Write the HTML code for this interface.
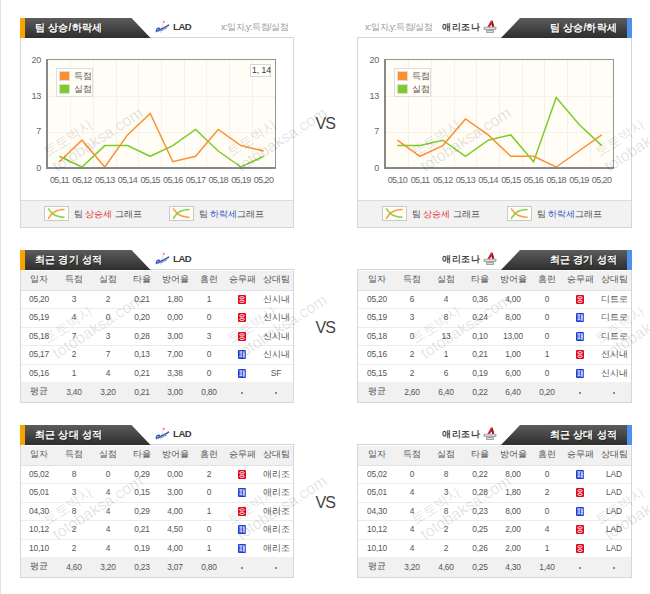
<!DOCTYPE html><html><head><meta charset="utf-8"><style>
html,body{margin:0;padding:0;background:#fff;width:650px;height:594px;overflow:hidden;position:relative;font-family:"Liberation Sans", sans-serif}
div{box-sizing:content-box}
.ttl{position:absolute;height:19px;line-height:19px;color:#fff;font-weight:bold;font-size:10px;white-space:nowrap;letter-spacing:0.2px;text-shadow:1px 1px 0 rgba(0,0,0,0.35)}
.team{position:absolute;font-size:9.5px;font-weight:bold;color:#3a3a3a;line-height:12px;letter-spacing:-0.4px}
.teamk{position:absolute;font-size:9px;font-weight:bold;color:#444;line-height:12px;letter-spacing:0.5px}
.axn{position:absolute;font-size:9px;color:#9a9a9a;line-height:12px;white-space:nowrap;letter-spacing:-0.5px}
.lg{position:absolute;font-size:8.5px;color:#555;line-height:12px}
.num{position:absolute;font-size:8px;line-height:10px;white-space:nowrap}
.ylab{position:absolute;font-size:9px;line-height:10px;color:#666;text-align:right;letter-spacing:-0.3px}
.xlab{position:absolute;font-size:9px;line-height:10px;color:#666;text-align:center;letter-spacing:-0.6px}
.ft{position:absolute;font-size:8.5px;line-height:12px;color:#555;white-space:nowrap}
.th,.td,.tn{position:absolute;width:50px;text-align:center;white-space:nowrap;color:#555;line-height:11px}
.th{font-size:8.5px}
.td{font-size:8.5px}
.tn{font-size:9.5px;letter-spacing:-0.2px;transform:scaleX(0.88)}
.wl{position:absolute;width:8px;height:9px;border-radius:1px;overflow:hidden}
.wl span{position:absolute;left:-1px;top:-1px;width:10px;text-align:center;font-size:8px;line-height:11px;color:#fff;font-weight:bold}
.vs{position:absolute;left:315.5px;font-size:16px;color:#444;line-height:16px;letter-spacing:-1px}
.wk{position:absolute;font-size:14px;line-height:14px;height:14px;white-space:nowrap;transform-origin:0 100%;transform:rotate(-33deg);color:rgba(0,0,0,0.12)}
.we{position:absolute;font-size:16px;line-height:14px;height:14px;white-space:nowrap;transform-origin:0 100%;transform:rotate(-33deg);color:rgba(0,0,0,0.12)}
</style></head><body><div style="position:absolute;left:0;top:0;width:1px;height:594px;background:#e3e3e3"></div><div style="position:absolute;left:20px;top:37px;width:272px;height:189px;border:1px solid #d6d6d6;background:#fff"></div>
<div style="position:absolute;left:21px;top:200px;width:272px;height:26px;border-top:1px solid #dcdcdc;background:#f2f2f2"></div>
<svg style="position:absolute;left:20px;top:18px" width="131" height="20"><defs><linearGradient id="g2018" x1="0" y1="0" x2="0" y2="1"><stop offset="0" stop-color="#5c5c5c"/><stop offset="1" stop-color="#2e2e2e"/></linearGradient></defs><polygon points="0,0 111.5,0 130.5,20 0,20" fill="url(#g2018)"/><rect x="0" y="0" width="5" height="20" fill="#f7a400"/></svg>
<div class="ttl" style="left:35px;top:18px">팀 상승/하락세</div>
<svg style="position:absolute;left:155px;top:20px" width="16" height="14" viewBox="0 0 16 14"><line x1="8.5" y1="2" x2="5.5" y2="13" stroke="#f6b8c0" stroke-width="0.7"/><circle cx="8.8" cy="1.8" r="1.1" fill="#f08090"/><path d="M1.5,11.5 C1,9.5 2.5,8 4,8.3 C5,8.6 4.5,10.3 3,11 M4.5,10 C6,9.2 7,8.3 8,8.4 C9,7.6 10.5,6.9 11.5,6.5 C12.3,6 12.8,5.6 13.5,5.2" fill="none" stroke="#3f5fb5" stroke-width="1.6" stroke-linecap="round"/><path d="M5.5,11 C7.5,10.2 9.5,9.2 12,7.8" fill="none" stroke="#6d86c8" stroke-width="1"/></svg>
<div class="team" style="left:173px;top:21px">LAD</div>
<div class="axn" style="left:221px;top:21px">x:일자,y:득점/실점</div>
<svg style="position:absolute;left:46px;top:59px" width="230" height="110"><rect x="0" y="0" width="230" height="110" fill="#fffdf6"/><line x1="24.5" y1="1" x2="24.5" y2="108" stroke="#f5f2ea" stroke-width="1"/><line x1="47.5" y1="1" x2="47.5" y2="108" stroke="#f5f2ea" stroke-width="1"/><line x1="70.5" y1="1" x2="70.5" y2="108" stroke="#f5f2ea" stroke-width="1"/><line x1="92.5" y1="1" x2="92.5" y2="108" stroke="#f5f2ea" stroke-width="1"/><line x1="115.5" y1="1" x2="115.5" y2="108" stroke="#f5f2ea" stroke-width="1"/><line x1="138.5" y1="1" x2="138.5" y2="108" stroke="#f5f2ea" stroke-width="1"/><line x1="160.5" y1="1" x2="160.5" y2="108" stroke="#f5f2ea" stroke-width="1"/><line x1="183.5" y1="1" x2="183.5" y2="108" stroke="#f5f2ea" stroke-width="1"/><line x1="206.5" y1="1" x2="206.5" y2="108" stroke="#f5f2ea" stroke-width="1"/><line x1="2" y1="37.5" x2="229" y2="37.5" stroke="#f5f2ea" stroke-width="1"/><line x1="2" y1="73.5" x2="229" y2="73.5" stroke="#f5f2ea" stroke-width="1"/><polyline points="13.3,97.3 36.0,108.0 58.8,86.6 81.5,86.6 104.2,97.3 126.8,86.6 149.6,70.5 172.2,92.0 194.9,108.0 217.7,97.3" fill="none" stroke="#7ccd2a" stroke-width="1.5" stroke-linejoin="miter"/><polyline points="13.3,102.7 36.0,81.2 58.8,108.0 81.5,75.9 104.2,54.5 126.8,102.7 149.6,97.3 172.2,70.5 194.9,86.6 217.7,92.0" fill="none" stroke="#fb9032" stroke-width="1.5" stroke-linejoin="miter"/><rect x="0.5" y="0.5" width="229" height="109" fill="none" stroke="#959595" stroke-width="1"/><rect x="0" y="0" width="2" height="110" fill="#888"/><rect x="0" y="108" width="230" height="2" fill="#888"/><rect x="10.5" y="9.5" width="36" height="28" fill="#fffdf6" stroke="#dedede"/><rect x="13.5" y="12.5" width="10" height="9" fill="#fb9032" stroke="#ddd"/><rect x="13.5" y="25.5" width="10" height="9" fill="#7ccd2a" stroke="#ddd"/></svg>
<div class="lg" style="left:74px;top:70px">득점</div>
<div class="lg" style="left:74px;top:83px">실점</div>
<div style="position:absolute;left:250px;top:64px;width:19px;height:11px;border:1px solid #d8d8d8;background:#fff"></div>
<div class="num" style="left:252px;top:65px;color:#333;font-size:8.5px">1, 14</div>
<div class="ylab" style="left:7px;top:55px;width:34px">20</div>
<div class="ylab" style="left:7px;top:91px;width:34px">13</div>
<div class="ylab" style="left:7px;top:126px;width:34px">7</div>
<div class="ylab" style="left:7px;top:163px;width:34px">0</div>
<div class="xlab" style="left:39.4px;top:175px;width:40px">05,11</div>
<div class="xlab" style="left:62.0px;top:175px;width:40px">05,12</div>
<div class="xlab" style="left:84.8px;top:175px;width:40px">05,13</div>
<div class="xlab" style="left:107.5px;top:175px;width:40px">05,14</div>
<div class="xlab" style="left:130.2px;top:175px;width:40px">05,15</div>
<div class="xlab" style="left:152.8px;top:175px;width:40px">05,16</div>
<div class="xlab" style="left:175.6px;top:175px;width:40px">05,17</div>
<div class="xlab" style="left:198.2px;top:175px;width:40px">05,18</div>
<div class="xlab" style="left:220.9px;top:175px;width:40px">05,19</div>
<div class="xlab" style="left:243.6px;top:175px;width:40px">05,20</div>
<svg style="position:absolute;left:44px;top:206px" width="25" height="15"><rect x="0.5" y="0.5" width="24" height="14" fill="#fffdf7" stroke="#c9c9c9"/><path d="M4.5,3 C7,6.5 9.5,10.5 20,11.2" fill="none" stroke="#7ccd2a" stroke-width="1.6" stroke-linecap="round" opacity="0.9"/><path d="M4.5,12.2 C7,8.5 9.5,4 20,3.5" fill="none" stroke="#fb9032" stroke-width="1.6" stroke-linecap="round" opacity="0.9"/></svg>
<div class="ft" style="left:73.5px;top:208px">팀</div><div class="ft" style="left:84.5px;top:208px;color:#e03a3a">상승세</div><div class="ft" style="left:114.5px;top:208px;letter-spacing:0px">그래프</div>
<svg style="position:absolute;left:169px;top:206px" width="25" height="15"><rect x="0.5" y="0.5" width="24" height="14" fill="#fffdf7" stroke="#c9c9c9"/><path d="M4.5,3 C7,6.5 9.5,10.5 20,11.2" fill="none" stroke="#fb9032" stroke-width="1.6" stroke-linecap="round" opacity="0.9"/><path d="M4.5,12.2 C7,8.5 9.5,4 20,3.5" fill="none" stroke="#7ccd2a" stroke-width="1.6" stroke-linecap="round" opacity="0.9"/></svg>
<div class="ft" style="left:198.5px;top:208px">팀</div><div class="ft" style="left:209.5px;top:208px;color:#3a5cc0">하락세</div><div class="ft" style="left:237px;top:208px;letter-spacing:0px">그래프</div>
<div style="position:absolute;left:357px;top:37px;width:273px;height:189px;border:1px solid #d6d6d6;background:#fff"></div>
<div style="position:absolute;left:358px;top:200px;width:273px;height:26px;border-top:1px solid #dcdcdc;background:#f2f2f2"></div>
<svg style="position:absolute;left:501px;top:18px" width="131" height="20"><defs><linearGradient id="g50118" x1="0" y1="0" x2="0" y2="1"><stop offset="0" stop-color="#5c5c5c"/><stop offset="1" stop-color="#2e2e2e"/></linearGradient></defs><polygon points="19,0 131,0 131,20 0,20" fill="url(#g50118)"/><rect x="126" y="0" width="5" height="20" fill="#4f8ff0"/></svg>
<div class="ttl" style="left:501px;width:116px;text-align:right;top:18px">팀 상승/하락세</div>
<div class="axn" style="left:365px;top:21px">x:일자,y:득점/실점</div>
<div class="teamk" style="left:442px;top:21px">애리조나</div>
<svg style="position:absolute;left:483px;top:20px" width="14" height="14" viewBox="0 0 14 14"><path d="M3.5,8.5 L8,0.5 L9.6,0.5 L11.5,8.5 L9.6,8.5 L8.8,4.2 L5.8,8.5 Z" fill="#d0202c"/><path d="M8.8,4.2 L9.6,0.5 L11.5,8.5 L9.6,8.5 Z" fill="#8e1520"/><rect x="0.5" y="6.8" width="13" height="3.2" rx="1.2" fill="#a8a8a8"/><rect x="2" y="7.6" width="10" height="1.4" fill="#d8d8d8"/><rect x="3" y="10" width="8" height="3" rx="1" fill="#9c9c9c"/><rect x="4" y="10.9" width="6" height="1.2" fill="#dcdcdc"/></svg>
<svg style="position:absolute;left:384px;top:59px" width="230" height="110"><rect x="0" y="0" width="230" height="110" fill="#fffdf6"/><line x1="24.5" y1="1" x2="24.5" y2="108" stroke="#f5f2ea" stroke-width="1"/><line x1="47.5" y1="1" x2="47.5" y2="108" stroke="#f5f2ea" stroke-width="1"/><line x1="70.5" y1="1" x2="70.5" y2="108" stroke="#f5f2ea" stroke-width="1"/><line x1="92.5" y1="1" x2="92.5" y2="108" stroke="#f5f2ea" stroke-width="1"/><line x1="115.5" y1="1" x2="115.5" y2="108" stroke="#f5f2ea" stroke-width="1"/><line x1="138.5" y1="1" x2="138.5" y2="108" stroke="#f5f2ea" stroke-width="1"/><line x1="160.5" y1="1" x2="160.5" y2="108" stroke="#f5f2ea" stroke-width="1"/><line x1="183.5" y1="1" x2="183.5" y2="108" stroke="#f5f2ea" stroke-width="1"/><line x1="206.5" y1="1" x2="206.5" y2="108" stroke="#f5f2ea" stroke-width="1"/><line x1="2" y1="37.5" x2="229" y2="37.5" stroke="#f5f2ea" stroke-width="1"/><line x1="2" y1="73.5" x2="229" y2="73.5" stroke="#f5f2ea" stroke-width="1"/><polyline points="13.3,86.6 36.0,86.6 58.8,81.2 81.5,97.3 104.2,81.2 126.8,75.9 149.6,102.7 172.2,38.5 194.9,65.2 217.7,86.6" fill="none" stroke="#7ccd2a" stroke-width="1.5" stroke-linejoin="miter"/><polyline points="13.3,81.2 36.0,97.3 58.8,86.6 81.5,59.9 104.2,75.9 126.8,97.3 149.6,97.3 172.2,108.0 194.9,92.0 217.7,75.9" fill="none" stroke="#fb9032" stroke-width="1.5" stroke-linejoin="miter"/><rect x="0.5" y="0.5" width="229" height="109" fill="none" stroke="#959595" stroke-width="1"/><rect x="0" y="0" width="2" height="110" fill="#888"/><rect x="0" y="108" width="230" height="2" fill="#888"/><rect x="10.5" y="9.5" width="36" height="28" fill="#fffdf6" stroke="#dedede"/><rect x="13.5" y="12.5" width="10" height="9" fill="#fb9032" stroke="#ddd"/><rect x="13.5" y="25.5" width="10" height="9" fill="#7ccd2a" stroke="#ddd"/></svg>
<div class="lg" style="left:412px;top:70px">득점</div>
<div class="lg" style="left:412px;top:83px">실점</div>
<div class="ylab" style="left:345px;top:55px;width:34px">20</div>
<div class="ylab" style="left:345px;top:91px;width:34px">13</div>
<div class="ylab" style="left:345px;top:126px;width:34px">7</div>
<div class="ylab" style="left:345px;top:163px;width:34px">0</div>
<div class="xlab" style="left:377.4px;top:175px;width:40px">05,10</div>
<div class="xlab" style="left:400.1px;top:175px;width:40px">05,11</div>
<div class="xlab" style="left:422.8px;top:175px;width:40px">05,12</div>
<div class="xlab" style="left:445.4px;top:175px;width:40px">05,13</div>
<div class="xlab" style="left:468.1px;top:175px;width:40px">05,14</div>
<div class="xlab" style="left:490.9px;top:175px;width:40px">05,15</div>
<div class="xlab" style="left:513.5px;top:175px;width:40px">05,16</div>
<div class="xlab" style="left:536.2px;top:175px;width:40px">05,18</div>
<div class="xlab" style="left:559.0px;top:175px;width:40px">05,19</div>
<div class="xlab" style="left:581.6px;top:175px;width:40px">05,20</div>
<svg style="position:absolute;left:382px;top:206px" width="25" height="15"><rect x="0.5" y="0.5" width="24" height="14" fill="#fffdf7" stroke="#c9c9c9"/><path d="M4.5,3 C7,6.5 9.5,10.5 20,11.2" fill="none" stroke="#7ccd2a" stroke-width="1.6" stroke-linecap="round" opacity="0.9"/><path d="M4.5,12.2 C7,8.5 9.5,4 20,3.5" fill="none" stroke="#fb9032" stroke-width="1.6" stroke-linecap="round" opacity="0.9"/></svg>
<div class="ft" style="left:411.5px;top:208px">팀</div><div class="ft" style="left:422.5px;top:208px;color:#e03a3a">상승세</div><div class="ft" style="left:452.5px;top:208px;letter-spacing:0px">그래프</div>
<svg style="position:absolute;left:507px;top:206px" width="25" height="15"><rect x="0.5" y="0.5" width="24" height="14" fill="#fffdf7" stroke="#c9c9c9"/><path d="M4.5,3 C7,6.5 9.5,10.5 20,11.2" fill="none" stroke="#fb9032" stroke-width="1.6" stroke-linecap="round" opacity="0.9"/><path d="M4.5,12.2 C7,8.5 9.5,4 20,3.5" fill="none" stroke="#7ccd2a" stroke-width="1.6" stroke-linecap="round" opacity="0.9"/></svg>
<div class="ft" style="left:536.5px;top:208px">팀</div><div class="ft" style="left:547.5px;top:208px;color:#3a5cc0">하락세</div><div class="ft" style="left:575px;top:208px;letter-spacing:0px">그래프</div>
<div style="position:absolute;left:20px;top:269px;width:272px;height:132px;border:1px solid #d6d6d6;background:#fff"></div>
<svg style="position:absolute;left:20px;top:250px" width="131" height="20"><defs><linearGradient id="g20250" x1="0" y1="0" x2="0" y2="1"><stop offset="0" stop-color="#5c5c5c"/><stop offset="1" stop-color="#2e2e2e"/></linearGradient></defs><polygon points="0,0 111.5,0 130.5,20 0,20" fill="url(#g20250)"/><rect x="0" y="0" width="5" height="20" fill="#f7a400"/></svg>
<div class="ttl" style="left:35px;top:250px">최근 경기 성적</div>
<svg style="position:absolute;left:155px;top:252px" width="16" height="14" viewBox="0 0 16 14"><line x1="8.5" y1="2" x2="5.5" y2="13" stroke="#f6b8c0" stroke-width="0.7"/><circle cx="8.8" cy="1.8" r="1.1" fill="#f08090"/><path d="M1.5,11.5 C1,9.5 2.5,8 4,8.3 C5,8.6 4.5,10.3 3,11 M4.5,10 C6,9.2 7,8.3 8,8.4 C9,7.6 10.5,6.9 11.5,6.5 C12.3,6 12.8,5.6 13.5,5.2" fill="none" stroke="#3f5fb5" stroke-width="1.6" stroke-linecap="round"/><path d="M5.5,11 C7.5,10.2 9.5,9.2 12,7.8" fill="none" stroke="#6d86c8" stroke-width="1"/></svg>
<div class="team" style="left:173px;top:253px">LAD</div>
<div style="position:absolute;left:21px;top:271px;width:272px;height:19px;background:#f1f1f1;border-bottom:1px solid #e2e2e2"></div>
<div style="position:absolute;left:21px;top:382px;width:272px;height:20px;background:#f1f1f1"></div>
<div style="position:absolute;left:21px;top:308px;width:272px;height:1px;background:#ececec"></div>
<div style="position:absolute;left:21px;top:327px;width:272px;height:1px;background:#ececec"></div>
<div style="position:absolute;left:21px;top:345px;width:272px;height:1px;background:#ececec"></div>
<div style="position:absolute;left:21px;top:364px;width:272px;height:1px;background:#ececec"></div>
<div class="th" style="left:14px;top:274px">일자</div>
<div class="th" style="left:48.8px;top:274px">득점</div>
<div class="th" style="left:82.6px;top:274px">실점</div>
<div class="th" style="left:116.6px;top:274px">타율</div>
<div class="th" style="left:150px;top:274px">방어율</div>
<div class="th" style="left:183.6px;top:274px">홈런</div>
<div class="th" style="left:217.4px;top:274px">승무패</div>
<div class="th" style="left:251px;top:274px">상대팀</div>
<div class="tn" style="left:14px;top:293px">05,20</div>
<div class="tn" style="left:48.8px;top:293px">3</div>
<div class="tn" style="left:82.6px;top:293px">2</div>
<div class="tn" style="left:116.6px;top:293px">0,21</div>
<div class="tn" style="left:150px;top:293px">1,80</div>
<div class="tn" style="left:183.6px;top:293px">1</div>
<svg style="position:absolute;left:238px;top:295px" width="8" height="9"><rect x="0" y="0" width="8" height="9" rx="1.3" fill="#e0061c"/><ellipse cx="4" cy="2.8" rx="2.3" ry="1.15" fill="none" stroke="#fff" stroke-width="0.9"/><ellipse cx="4" cy="6.3" rx="2.3" ry="1.15" fill="none" stroke="#fff" stroke-width="0.9"/></svg>
<div class="td" style="left:251px;top:294px">신시내</div>
<div class="tn" style="left:14px;top:311px">05,19</div>
<div class="tn" style="left:48.8px;top:311px">4</div>
<div class="tn" style="left:82.6px;top:311px">0</div>
<div class="tn" style="left:116.6px;top:311px">0,20</div>
<div class="tn" style="left:150px;top:311px">0,00</div>
<div class="tn" style="left:183.6px;top:311px">0</div>
<svg style="position:absolute;left:238px;top:313px" width="8" height="9"><rect x="0" y="0" width="8" height="9" rx="1.3" fill="#e0061c"/><ellipse cx="4" cy="2.8" rx="2.3" ry="1.15" fill="none" stroke="#fff" stroke-width="0.9"/><ellipse cx="4" cy="6.3" rx="2.3" ry="1.15" fill="none" stroke="#fff" stroke-width="0.9"/></svg>
<div class="td" style="left:251px;top:312px">신시내</div>
<div class="tn" style="left:14px;top:330px">05,18</div>
<div class="tn" style="left:48.8px;top:330px">7</div>
<div class="tn" style="left:82.6px;top:330px">3</div>
<div class="tn" style="left:116.6px;top:330px">0,28</div>
<div class="tn" style="left:150px;top:330px">3,00</div>
<div class="tn" style="left:183.6px;top:330px">3</div>
<svg style="position:absolute;left:238px;top:332px" width="8" height="9"><rect x="0" y="0" width="8" height="9" rx="1.3" fill="#e0061c"/><ellipse cx="4" cy="2.8" rx="2.3" ry="1.15" fill="none" stroke="#fff" stroke-width="0.9"/><ellipse cx="4" cy="6.3" rx="2.3" ry="1.15" fill="none" stroke="#fff" stroke-width="0.9"/></svg>
<div class="td" style="left:251px;top:331px">신시내</div>
<div class="tn" style="left:14px;top:348px">05,17</div>
<div class="tn" style="left:48.8px;top:348px">2</div>
<div class="tn" style="left:82.6px;top:348px">7</div>
<div class="tn" style="left:116.6px;top:348px">0,13</div>
<div class="tn" style="left:150px;top:348px">7,00</div>
<div class="tn" style="left:183.6px;top:348px">0</div>
<svg style="position:absolute;left:238px;top:350px" width="8" height="9"><rect x="0" y="0" width="8" height="9" rx="1.3" fill="#1c3cd8"/><path d="M1.3,1.8 H4.6 M2.2,1.8 V6.8 M3.7,1.8 V6.8 M1.3,6.8 H4.6 M5.6,1.3 V7.8 M6.8,1.3 V7.8 M5.6,4.3 H6.8" fill="none" stroke="#fff" stroke-width="0.75"/></svg>
<div class="td" style="left:251px;top:349px">신시내</div>
<div class="tn" style="left:14px;top:367px">05,16</div>
<div class="tn" style="left:48.8px;top:367px">1</div>
<div class="tn" style="left:82.6px;top:367px">4</div>
<div class="tn" style="left:116.6px;top:367px">0,21</div>
<div class="tn" style="left:150px;top:367px">3,38</div>
<div class="tn" style="left:183.6px;top:367px">0</div>
<svg style="position:absolute;left:238px;top:369px" width="8" height="9"><rect x="0" y="0" width="8" height="9" rx="1.3" fill="#1c3cd8"/><path d="M1.3,1.8 H4.6 M2.2,1.8 V6.8 M3.7,1.8 V6.8 M1.3,6.8 H4.6 M5.6,1.3 V7.8 M6.8,1.3 V7.8 M5.6,4.3 H6.8" fill="none" stroke="#fff" stroke-width="0.75"/></svg>
<div class="tn" style="left:251px;top:367px">SF</div>
<div class="td" style="left:14px;top:386px">평균</div>
<div class="tn" style="left:48.8px;top:386px">3,40</div>
<div class="tn" style="left:82.6px;top:386px">3,20</div>
<div class="tn" style="left:116.6px;top:386px">0,21</div>
<div class="tn" style="left:150px;top:386px">3,00</div>
<div class="tn" style="left:183.6px;top:386px">0,80</div>
<div style="position:absolute;left:241px;top:392px;width:2px;height:2px;background:#8a8a8a"></div>
<div style="position:absolute;left:275px;top:392px;width:2px;height:2px;background:#8a8a8a"></div>
<div style="position:absolute;left:357px;top:269px;width:273px;height:132px;border:1px solid #d6d6d6;background:#fff"></div>
<svg style="position:absolute;left:501px;top:250px" width="131" height="20"><defs><linearGradient id="g501250" x1="0" y1="0" x2="0" y2="1"><stop offset="0" stop-color="#5c5c5c"/><stop offset="1" stop-color="#2e2e2e"/></linearGradient></defs><polygon points="19,0 131,0 131,20 0,20" fill="url(#g501250)"/><rect x="126" y="0" width="5" height="20" fill="#4f8ff0"/></svg>
<div class="ttl" style="left:501px;width:116px;text-align:right;top:250px">최근 경기 성적</div>
<div class="teamk" style="left:442px;top:253px">애리조나</div>
<svg style="position:absolute;left:483px;top:252px" width="14" height="14" viewBox="0 0 14 14"><path d="M3.5,8.5 L8,0.5 L9.6,0.5 L11.5,8.5 L9.6,8.5 L8.8,4.2 L5.8,8.5 Z" fill="#d0202c"/><path d="M8.8,4.2 L9.6,0.5 L11.5,8.5 L9.6,8.5 Z" fill="#8e1520"/><rect x="0.5" y="6.8" width="13" height="3.2" rx="1.2" fill="#a8a8a8"/><rect x="2" y="7.6" width="10" height="1.4" fill="#d8d8d8"/><rect x="3" y="10" width="8" height="3" rx="1" fill="#9c9c9c"/><rect x="4" y="10.9" width="6" height="1.2" fill="#dcdcdc"/></svg>
<div style="position:absolute;left:358px;top:271px;width:273px;height:19px;background:#f1f1f1;border-bottom:1px solid #e2e2e2"></div>
<div style="position:absolute;left:358px;top:382px;width:273px;height:20px;background:#f1f1f1"></div>
<div style="position:absolute;left:358px;top:308px;width:273px;height:1px;background:#ececec"></div>
<div style="position:absolute;left:358px;top:327px;width:273px;height:1px;background:#ececec"></div>
<div style="position:absolute;left:358px;top:345px;width:273px;height:1px;background:#ececec"></div>
<div style="position:absolute;left:358px;top:364px;width:273px;height:1px;background:#ececec"></div>
<div class="th" style="left:352px;top:274px">일자</div>
<div class="th" style="left:386.8px;top:274px">득점</div>
<div class="th" style="left:420.6px;top:274px">실점</div>
<div class="th" style="left:454.6px;top:274px">타율</div>
<div class="th" style="left:488px;top:274px">방어율</div>
<div class="th" style="left:521.6px;top:274px">홈런</div>
<div class="th" style="left:555.4px;top:274px">승무패</div>
<div class="th" style="left:589px;top:274px">상대팀</div>
<div class="tn" style="left:352px;top:293px">05,20</div>
<div class="tn" style="left:386.8px;top:293px">6</div>
<div class="tn" style="left:420.6px;top:293px">4</div>
<div class="tn" style="left:454.6px;top:293px">0,36</div>
<div class="tn" style="left:488px;top:293px">4,00</div>
<div class="tn" style="left:521.6px;top:293px">0</div>
<svg style="position:absolute;left:576px;top:295px" width="8" height="9"><rect x="0" y="0" width="8" height="9" rx="1.3" fill="#e0061c"/><ellipse cx="4" cy="2.8" rx="2.3" ry="1.15" fill="none" stroke="#fff" stroke-width="0.9"/><ellipse cx="4" cy="6.3" rx="2.3" ry="1.15" fill="none" stroke="#fff" stroke-width="0.9"/></svg>
<div class="td" style="left:589px;top:294px">디트로</div>
<div class="tn" style="left:352px;top:311px">05,19</div>
<div class="tn" style="left:386.8px;top:311px">3</div>
<div class="tn" style="left:420.6px;top:311px">8</div>
<div class="tn" style="left:454.6px;top:311px">0,24</div>
<div class="tn" style="left:488px;top:311px">8,00</div>
<div class="tn" style="left:521.6px;top:311px">0</div>
<svg style="position:absolute;left:576px;top:313px" width="8" height="9"><rect x="0" y="0" width="8" height="9" rx="1.3" fill="#1c3cd8"/><path d="M1.3,1.8 H4.6 M2.2,1.8 V6.8 M3.7,1.8 V6.8 M1.3,6.8 H4.6 M5.6,1.3 V7.8 M6.8,1.3 V7.8 M5.6,4.3 H6.8" fill="none" stroke="#fff" stroke-width="0.75"/></svg>
<div class="td" style="left:589px;top:312px">디트로</div>
<div class="tn" style="left:352px;top:330px">05,18</div>
<div class="tn" style="left:386.8px;top:330px">0</div>
<div class="tn" style="left:420.6px;top:330px">13</div>
<div class="tn" style="left:454.6px;top:330px">0,10</div>
<div class="tn" style="left:488px;top:330px">13,00</div>
<div class="tn" style="left:521.6px;top:330px">0</div>
<svg style="position:absolute;left:576px;top:332px" width="8" height="9"><rect x="0" y="0" width="8" height="9" rx="1.3" fill="#1c3cd8"/><path d="M1.3,1.8 H4.6 M2.2,1.8 V6.8 M3.7,1.8 V6.8 M1.3,6.8 H4.6 M5.6,1.3 V7.8 M6.8,1.3 V7.8 M5.6,4.3 H6.8" fill="none" stroke="#fff" stroke-width="0.75"/></svg>
<div class="td" style="left:589px;top:331px">디트로</div>
<div class="tn" style="left:352px;top:348px">05,16</div>
<div class="tn" style="left:386.8px;top:348px">2</div>
<div class="tn" style="left:420.6px;top:348px">1</div>
<div class="tn" style="left:454.6px;top:348px">0,21</div>
<div class="tn" style="left:488px;top:348px">1,00</div>
<div class="tn" style="left:521.6px;top:348px">1</div>
<svg style="position:absolute;left:576px;top:350px" width="8" height="9"><rect x="0" y="0" width="8" height="9" rx="1.3" fill="#e0061c"/><ellipse cx="4" cy="2.8" rx="2.3" ry="1.15" fill="none" stroke="#fff" stroke-width="0.9"/><ellipse cx="4" cy="6.3" rx="2.3" ry="1.15" fill="none" stroke="#fff" stroke-width="0.9"/></svg>
<div class="td" style="left:589px;top:349px">신시내</div>
<div class="tn" style="left:352px;top:367px">05,15</div>
<div class="tn" style="left:386.8px;top:367px">2</div>
<div class="tn" style="left:420.6px;top:367px">6</div>
<div class="tn" style="left:454.6px;top:367px">0,19</div>
<div class="tn" style="left:488px;top:367px">6,00</div>
<div class="tn" style="left:521.6px;top:367px">0</div>
<svg style="position:absolute;left:576px;top:369px" width="8" height="9"><rect x="0" y="0" width="8" height="9" rx="1.3" fill="#1c3cd8"/><path d="M1.3,1.8 H4.6 M2.2,1.8 V6.8 M3.7,1.8 V6.8 M1.3,6.8 H4.6 M5.6,1.3 V7.8 M6.8,1.3 V7.8 M5.6,4.3 H6.8" fill="none" stroke="#fff" stroke-width="0.75"/></svg>
<div class="td" style="left:589px;top:368px">신시내</div>
<div class="td" style="left:352px;top:386px">평균</div>
<div class="tn" style="left:386.8px;top:386px">2,60</div>
<div class="tn" style="left:420.6px;top:386px">6,40</div>
<div class="tn" style="left:454.6px;top:386px">0,22</div>
<div class="tn" style="left:488px;top:386px">6,40</div>
<div class="tn" style="left:521.6px;top:386px">0,20</div>
<div style="position:absolute;left:579px;top:392px;width:2px;height:2px;background:#8a8a8a"></div>
<div style="position:absolute;left:613px;top:392px;width:2px;height:2px;background:#8a8a8a"></div>
<div style="position:absolute;left:20px;top:444px;width:272px;height:132px;border:1px solid #d6d6d6;background:#fff"></div>
<svg style="position:absolute;left:20px;top:425px" width="131" height="20"><defs><linearGradient id="g20425" x1="0" y1="0" x2="0" y2="1"><stop offset="0" stop-color="#5c5c5c"/><stop offset="1" stop-color="#2e2e2e"/></linearGradient></defs><polygon points="0,0 111.5,0 130.5,20 0,20" fill="url(#g20425)"/><rect x="0" y="0" width="5" height="20" fill="#f7a400"/></svg>
<div class="ttl" style="left:35px;top:425px">최근 상대 성적</div>
<svg style="position:absolute;left:155px;top:427px" width="16" height="14" viewBox="0 0 16 14"><line x1="8.5" y1="2" x2="5.5" y2="13" stroke="#f6b8c0" stroke-width="0.7"/><circle cx="8.8" cy="1.8" r="1.1" fill="#f08090"/><path d="M1.5,11.5 C1,9.5 2.5,8 4,8.3 C5,8.6 4.5,10.3 3,11 M4.5,10 C6,9.2 7,8.3 8,8.4 C9,7.6 10.5,6.9 11.5,6.5 C12.3,6 12.8,5.6 13.5,5.2" fill="none" stroke="#3f5fb5" stroke-width="1.6" stroke-linecap="round"/><path d="M5.5,11 C7.5,10.2 9.5,9.2 12,7.8" fill="none" stroke="#6d86c8" stroke-width="1"/></svg>
<div class="team" style="left:173px;top:428px">LAD</div>
<div style="position:absolute;left:21px;top:446px;width:272px;height:19px;background:#f1f1f1;border-bottom:1px solid #e2e2e2"></div>
<div style="position:absolute;left:21px;top:557px;width:272px;height:20px;background:#f1f1f1"></div>
<div style="position:absolute;left:21px;top:483px;width:272px;height:1px;background:#ececec"></div>
<div style="position:absolute;left:21px;top:502px;width:272px;height:1px;background:#ececec"></div>
<div style="position:absolute;left:21px;top:520px;width:272px;height:1px;background:#ececec"></div>
<div style="position:absolute;left:21px;top:539px;width:272px;height:1px;background:#ececec"></div>
<div class="th" style="left:14px;top:449px">일자</div>
<div class="th" style="left:48.8px;top:449px">득점</div>
<div class="th" style="left:82.6px;top:449px">실점</div>
<div class="th" style="left:116.6px;top:449px">타율</div>
<div class="th" style="left:150px;top:449px">방어율</div>
<div class="th" style="left:183.6px;top:449px">홈런</div>
<div class="th" style="left:217.4px;top:449px">승무패</div>
<div class="th" style="left:251px;top:449px">상대팀</div>
<div class="tn" style="left:14px;top:468px">05,02</div>
<div class="tn" style="left:48.8px;top:468px">8</div>
<div class="tn" style="left:82.6px;top:468px">0</div>
<div class="tn" style="left:116.6px;top:468px">0,29</div>
<div class="tn" style="left:150px;top:468px">0,00</div>
<div class="tn" style="left:183.6px;top:468px">2</div>
<svg style="position:absolute;left:238px;top:470px" width="8" height="9"><rect x="0" y="0" width="8" height="9" rx="1.3" fill="#e0061c"/><ellipse cx="4" cy="2.8" rx="2.3" ry="1.15" fill="none" stroke="#fff" stroke-width="0.9"/><ellipse cx="4" cy="6.3" rx="2.3" ry="1.15" fill="none" stroke="#fff" stroke-width="0.9"/></svg>
<div class="td" style="left:251px;top:469px">애리조</div>
<div class="tn" style="left:14px;top:486px">05,01</div>
<div class="tn" style="left:48.8px;top:486px">3</div>
<div class="tn" style="left:82.6px;top:486px">4</div>
<div class="tn" style="left:116.6px;top:486px">0,15</div>
<div class="tn" style="left:150px;top:486px">3,00</div>
<div class="tn" style="left:183.6px;top:486px">0</div>
<svg style="position:absolute;left:238px;top:488px" width="8" height="9"><rect x="0" y="0" width="8" height="9" rx="1.3" fill="#1c3cd8"/><path d="M1.3,1.8 H4.6 M2.2,1.8 V6.8 M3.7,1.8 V6.8 M1.3,6.8 H4.6 M5.6,1.3 V7.8 M6.8,1.3 V7.8 M5.6,4.3 H6.8" fill="none" stroke="#fff" stroke-width="0.75"/></svg>
<div class="td" style="left:251px;top:487px">애리조</div>
<div class="tn" style="left:14px;top:505px">04,30</div>
<div class="tn" style="left:48.8px;top:505px">8</div>
<div class="tn" style="left:82.6px;top:505px">4</div>
<div class="tn" style="left:116.6px;top:505px">0,29</div>
<div class="tn" style="left:150px;top:505px">4,00</div>
<div class="tn" style="left:183.6px;top:505px">1</div>
<svg style="position:absolute;left:238px;top:507px" width="8" height="9"><rect x="0" y="0" width="8" height="9" rx="1.3" fill="#e0061c"/><ellipse cx="4" cy="2.8" rx="2.3" ry="1.15" fill="none" stroke="#fff" stroke-width="0.9"/><ellipse cx="4" cy="6.3" rx="2.3" ry="1.15" fill="none" stroke="#fff" stroke-width="0.9"/></svg>
<div class="td" style="left:251px;top:506px">애리조</div>
<div class="tn" style="left:14px;top:523px">10,12</div>
<div class="tn" style="left:48.8px;top:523px">2</div>
<div class="tn" style="left:82.6px;top:523px">4</div>
<div class="tn" style="left:116.6px;top:523px">0,21</div>
<div class="tn" style="left:150px;top:523px">4,50</div>
<div class="tn" style="left:183.6px;top:523px">0</div>
<svg style="position:absolute;left:238px;top:525px" width="8" height="9"><rect x="0" y="0" width="8" height="9" rx="1.3" fill="#1c3cd8"/><path d="M1.3,1.8 H4.6 M2.2,1.8 V6.8 M3.7,1.8 V6.8 M1.3,6.8 H4.6 M5.6,1.3 V7.8 M6.8,1.3 V7.8 M5.6,4.3 H6.8" fill="none" stroke="#fff" stroke-width="0.75"/></svg>
<div class="td" style="left:251px;top:524px">애리조</div>
<div class="tn" style="left:14px;top:542px">10,10</div>
<div class="tn" style="left:48.8px;top:542px">2</div>
<div class="tn" style="left:82.6px;top:542px">4</div>
<div class="tn" style="left:116.6px;top:542px">0,19</div>
<div class="tn" style="left:150px;top:542px">4,00</div>
<div class="tn" style="left:183.6px;top:542px">1</div>
<svg style="position:absolute;left:238px;top:544px" width="8" height="9"><rect x="0" y="0" width="8" height="9" rx="1.3" fill="#1c3cd8"/><path d="M1.3,1.8 H4.6 M2.2,1.8 V6.8 M3.7,1.8 V6.8 M1.3,6.8 H4.6 M5.6,1.3 V7.8 M6.8,1.3 V7.8 M5.6,4.3 H6.8" fill="none" stroke="#fff" stroke-width="0.75"/></svg>
<div class="td" style="left:251px;top:543px">애리조</div>
<div class="td" style="left:14px;top:561px">평균</div>
<div class="tn" style="left:48.8px;top:561px">4,60</div>
<div class="tn" style="left:82.6px;top:561px">3,20</div>
<div class="tn" style="left:116.6px;top:561px">0,23</div>
<div class="tn" style="left:150px;top:561px">3,07</div>
<div class="tn" style="left:183.6px;top:561px">0,80</div>
<div style="position:absolute;left:241px;top:567px;width:2px;height:2px;background:#8a8a8a"></div>
<div style="position:absolute;left:275px;top:567px;width:2px;height:2px;background:#8a8a8a"></div>
<div style="position:absolute;left:357px;top:444px;width:273px;height:132px;border:1px solid #d6d6d6;background:#fff"></div>
<svg style="position:absolute;left:501px;top:425px" width="131" height="20"><defs><linearGradient id="g501425" x1="0" y1="0" x2="0" y2="1"><stop offset="0" stop-color="#5c5c5c"/><stop offset="1" stop-color="#2e2e2e"/></linearGradient></defs><polygon points="19,0 131,0 131,20 0,20" fill="url(#g501425)"/><rect x="126" y="0" width="5" height="20" fill="#4f8ff0"/></svg>
<div class="ttl" style="left:501px;width:116px;text-align:right;top:425px">최근 상대 성적</div>
<div class="teamk" style="left:442px;top:428px">애리조나</div>
<svg style="position:absolute;left:483px;top:427px" width="14" height="14" viewBox="0 0 14 14"><path d="M3.5,8.5 L8,0.5 L9.6,0.5 L11.5,8.5 L9.6,8.5 L8.8,4.2 L5.8,8.5 Z" fill="#d0202c"/><path d="M8.8,4.2 L9.6,0.5 L11.5,8.5 L9.6,8.5 Z" fill="#8e1520"/><rect x="0.5" y="6.8" width="13" height="3.2" rx="1.2" fill="#a8a8a8"/><rect x="2" y="7.6" width="10" height="1.4" fill="#d8d8d8"/><rect x="3" y="10" width="8" height="3" rx="1" fill="#9c9c9c"/><rect x="4" y="10.9" width="6" height="1.2" fill="#dcdcdc"/></svg>
<div style="position:absolute;left:358px;top:446px;width:273px;height:19px;background:#f1f1f1;border-bottom:1px solid #e2e2e2"></div>
<div style="position:absolute;left:358px;top:557px;width:273px;height:20px;background:#f1f1f1"></div>
<div style="position:absolute;left:358px;top:483px;width:273px;height:1px;background:#ececec"></div>
<div style="position:absolute;left:358px;top:502px;width:273px;height:1px;background:#ececec"></div>
<div style="position:absolute;left:358px;top:520px;width:273px;height:1px;background:#ececec"></div>
<div style="position:absolute;left:358px;top:539px;width:273px;height:1px;background:#ececec"></div>
<div class="th" style="left:352px;top:449px">일자</div>
<div class="th" style="left:386.8px;top:449px">득점</div>
<div class="th" style="left:420.6px;top:449px">실점</div>
<div class="th" style="left:454.6px;top:449px">타율</div>
<div class="th" style="left:488px;top:449px">방어율</div>
<div class="th" style="left:521.6px;top:449px">홈런</div>
<div class="th" style="left:555.4px;top:449px">승무패</div>
<div class="th" style="left:589px;top:449px">상대팀</div>
<div class="tn" style="left:352px;top:468px">05,02</div>
<div class="tn" style="left:386.8px;top:468px">0</div>
<div class="tn" style="left:420.6px;top:468px">8</div>
<div class="tn" style="left:454.6px;top:468px">0,22</div>
<div class="tn" style="left:488px;top:468px">8,00</div>
<div class="tn" style="left:521.6px;top:468px">0</div>
<svg style="position:absolute;left:576px;top:470px" width="8" height="9"><rect x="0" y="0" width="8" height="9" rx="1.3" fill="#1c3cd8"/><path d="M1.3,1.8 H4.6 M2.2,1.8 V6.8 M3.7,1.8 V6.8 M1.3,6.8 H4.6 M5.6,1.3 V7.8 M6.8,1.3 V7.8 M5.6,4.3 H6.8" fill="none" stroke="#fff" stroke-width="0.75"/></svg>
<div class="tn" style="left:589px;top:468px">LAD</div>
<div class="tn" style="left:352px;top:486px">05,01</div>
<div class="tn" style="left:386.8px;top:486px">4</div>
<div class="tn" style="left:420.6px;top:486px">3</div>
<div class="tn" style="left:454.6px;top:486px">0,28</div>
<div class="tn" style="left:488px;top:486px">1,80</div>
<div class="tn" style="left:521.6px;top:486px">2</div>
<svg style="position:absolute;left:576px;top:488px" width="8" height="9"><rect x="0" y="0" width="8" height="9" rx="1.3" fill="#e0061c"/><ellipse cx="4" cy="2.8" rx="2.3" ry="1.15" fill="none" stroke="#fff" stroke-width="0.9"/><ellipse cx="4" cy="6.3" rx="2.3" ry="1.15" fill="none" stroke="#fff" stroke-width="0.9"/></svg>
<div class="tn" style="left:589px;top:486px">LAD</div>
<div class="tn" style="left:352px;top:505px">04,30</div>
<div class="tn" style="left:386.8px;top:505px">4</div>
<div class="tn" style="left:420.6px;top:505px">8</div>
<div class="tn" style="left:454.6px;top:505px">0,23</div>
<div class="tn" style="left:488px;top:505px">8,00</div>
<div class="tn" style="left:521.6px;top:505px">0</div>
<svg style="position:absolute;left:576px;top:507px" width="8" height="9"><rect x="0" y="0" width="8" height="9" rx="1.3" fill="#1c3cd8"/><path d="M1.3,1.8 H4.6 M2.2,1.8 V6.8 M3.7,1.8 V6.8 M1.3,6.8 H4.6 M5.6,1.3 V7.8 M6.8,1.3 V7.8 M5.6,4.3 H6.8" fill="none" stroke="#fff" stroke-width="0.75"/></svg>
<div class="tn" style="left:589px;top:505px">LAD</div>
<div class="tn" style="left:352px;top:523px">10,12</div>
<div class="tn" style="left:386.8px;top:523px">4</div>
<div class="tn" style="left:420.6px;top:523px">2</div>
<div class="tn" style="left:454.6px;top:523px">0,25</div>
<div class="tn" style="left:488px;top:523px">2,00</div>
<div class="tn" style="left:521.6px;top:523px">4</div>
<svg style="position:absolute;left:576px;top:525px" width="8" height="9"><rect x="0" y="0" width="8" height="9" rx="1.3" fill="#e0061c"/><ellipse cx="4" cy="2.8" rx="2.3" ry="1.15" fill="none" stroke="#fff" stroke-width="0.9"/><ellipse cx="4" cy="6.3" rx="2.3" ry="1.15" fill="none" stroke="#fff" stroke-width="0.9"/></svg>
<div class="tn" style="left:589px;top:523px">LAD</div>
<div class="tn" style="left:352px;top:542px">10,10</div>
<div class="tn" style="left:386.8px;top:542px">4</div>
<div class="tn" style="left:420.6px;top:542px">2</div>
<div class="tn" style="left:454.6px;top:542px">0,26</div>
<div class="tn" style="left:488px;top:542px">2,00</div>
<div class="tn" style="left:521.6px;top:542px">1</div>
<svg style="position:absolute;left:576px;top:544px" width="8" height="9"><rect x="0" y="0" width="8" height="9" rx="1.3" fill="#e0061c"/><ellipse cx="4" cy="2.8" rx="2.3" ry="1.15" fill="none" stroke="#fff" stroke-width="0.9"/><ellipse cx="4" cy="6.3" rx="2.3" ry="1.15" fill="none" stroke="#fff" stroke-width="0.9"/></svg>
<div class="tn" style="left:589px;top:542px">LAD</div>
<div class="td" style="left:352px;top:561px">평균</div>
<div class="tn" style="left:386.8px;top:561px">3,20</div>
<div class="tn" style="left:420.6px;top:561px">4,60</div>
<div class="tn" style="left:454.6px;top:561px">0,25</div>
<div class="tn" style="left:488px;top:561px">4,30</div>
<div class="tn" style="left:521.6px;top:561px">1,40</div>
<div style="position:absolute;left:579px;top:567px;width:2px;height:2px;background:#8a8a8a"></div>
<div style="position:absolute;left:613px;top:567px;width:2px;height:2px;background:#8a8a8a"></div>
<div class="vs" style="top:116px">VS</div>
<div class="vs" style="top:320px">VS</div>
<div class="vs" style="top:495px">VS</div>
<div class="wk" style="left:48.0px;top:144.5px">토토박사</div>
<div class="we" style="left:58.0px;top:160.0px">totobaksa.com</div>
<div class="wk" style="left:48.0px;top:331.5px">토토박사</div>
<div class="we" style="left:58.0px;top:347.0px">totobaksa.com</div>
<div class="wk" style="left:48.0px;top:512.5px">토토박사</div>
<div class="we" style="left:58.0px;top:528.0px">totobaksa.com</div>
<div class="wk" style="left:232.0px;top:144.5px">토토박사</div>
<div class="we" style="left:242.0px;top:160.0px">totobaksa.com</div>
<div class="wk" style="left:232.0px;top:331.5px">토토박사</div>
<div class="we" style="left:242.0px;top:347.0px">totobaksa.com</div>
<div class="wk" style="left:232.0px;top:512.5px">토토박사</div>
<div class="we" style="left:242.0px;top:528.0px">totobaksa.com</div>
<div class="wk" style="left:416.0px;top:144.5px">토토박사</div>
<div class="we" style="left:426.0px;top:160.0px">totobaksa.com</div>
<div class="wk" style="left:416.0px;top:331.5px">토토박사</div>
<div class="we" style="left:426.0px;top:347.0px">totobaksa.com</div>
<div class="wk" style="left:416.0px;top:512.5px">토토박사</div>
<div class="we" style="left:426.0px;top:528.0px">totobaksa.com</div>
<div class="wk" style="left:600.0px;top:144.5px">토토박사</div>
<div class="we" style="left:610.0px;top:160.0px">totobaksa.com</div>
<div class="wk" style="left:600.0px;top:331.5px">토토박사</div>
<div class="we" style="left:610.0px;top:347.0px">totobaksa.com</div>
<div class="wk" style="left:600.0px;top:512.5px">토토박사</div>
<div class="we" style="left:610.0px;top:528.0px">totobaksa.com</div></body></html>
